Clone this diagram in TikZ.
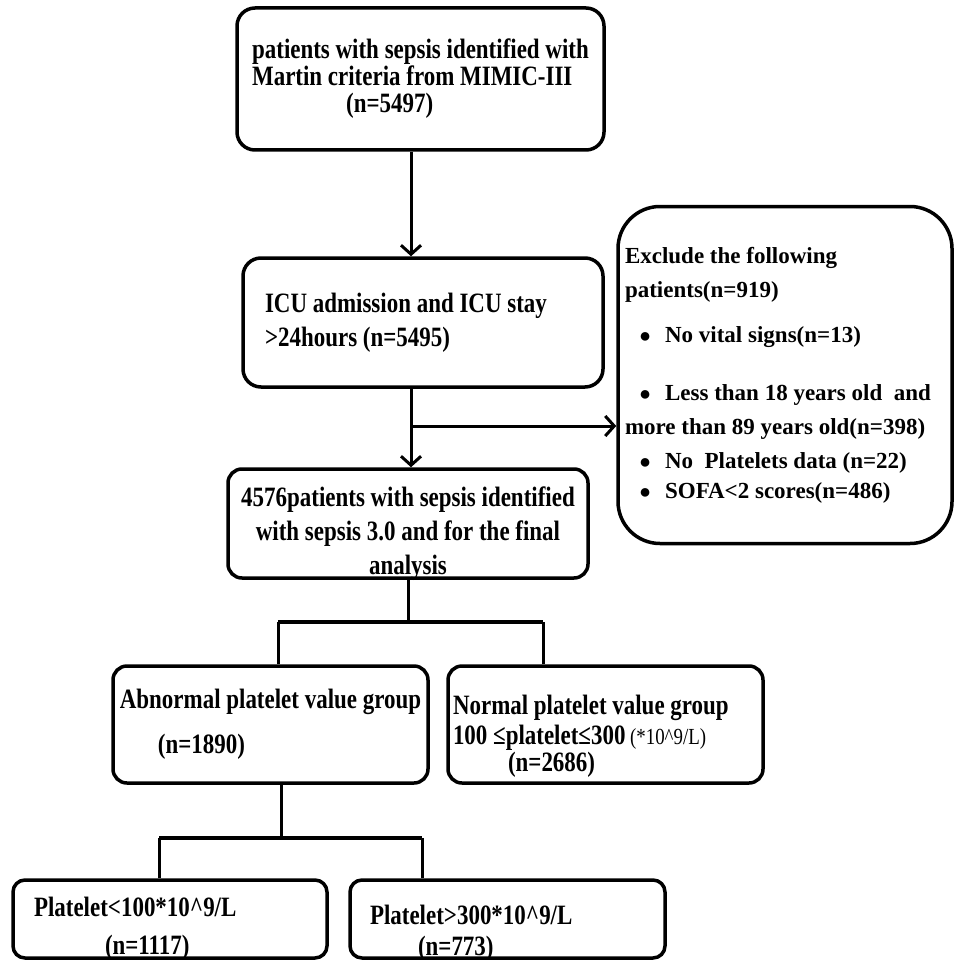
\documentclass[tikz,border=0pt]{standalone}
\usepackage{fontspec}
\setmainfont{Liberation Serif}
\newfontfamily\narrowfont{Liberation Serif}[FakeStretch=0.82]
\usetikzlibrary{arrows.meta, positioning}
\tikzset{>={Straight Barb[length=9pt,width=20pt]},
  box/.style={draw, line width=3.5pt, rounded corners=18pt, inner sep=0pt,
    font=\narrowfont\bfseries\fontsize{28}{34}\selectfont},
  link/.style={line width=3pt},
  bar/.style={line width=4pt}}
\newcommand{\dotitem}{\hspace*{14pt}{\fontsize{20}{20}\selectfont ●}\hspace{14pt}}

\begin{document}
\begin{tikzpicture}[x=1pt, y=-1pt]
  \useasboundingbox (0,0) rectangle (954,960);
  \node[box, minimum width=367pt, minimum height=142pt, align=flush left] (sepsis_martin) at (420.5,79)
    {patients with sepsis identified with\\[-7pt]Martin criteria from MIMIC-III\\[-7pt]\hspace*{94pt}(n=5497)};
  \node[box, minimum width=360pt, minimum height=129pt, text width=316pt, align=flush left] (icu_stay) at (423,322.5)
    {ICU admission and ICU stay\\>24hours (n=5495)};
  \node[box, rounded corners=42pt, font=\bfseries\fontsize{23}{34}\selectfont, minimum width=334pt,
    minimum height=337pt, text width=320pt, align=flush left] (exclude) at (785,375)
    {Exclude the following\\patients(n=919)\\[11pt]
     \mbox{\dotitem No vital signs(n=13)}\\[24pt]
     \mbox{\dotitem Less than 18 years old~ and}\\
     \mbox{more than 89 years old(n=398)}\\
     \mbox{\dotitem No~ Platelets data (n=22)}\\[-4pt]
     \mbox{\dotitem SOFA<2 scores(n=486)}};
  \node[box, rounded corners=14pt, minimum width=360pt, minimum height=109pt, text width=356pt, text height=0pt,
    text depth=35pt, align=flush center] (final_analysis) at (408,523.5)
    {4576patients with sepsis identified\\with sepsis 3.0 and for the final\\analysis};
  \node[box, rounded corners=14pt, minimum width=315pt, minimum height=117pt, align=flush left] (abnormal_plt) at (270.5,724.5)
    {Abnormal platelet value group\\[11pt]\hspace*{38pt}(n=1890)};
  \node[box, rounded corners=14pt, minimum width=315pt, minimum height=117pt, text width=305pt, text height=0pt,
    text depth=21pt, align=flush left] (normal_plt) at (605.5,724.5)
    {Normal platelet value group\\[-4pt]100 ≤platelet≤300\,{\mdseries\fontsize{23}{23}\selectfont(*10\textasciicircum 9/L)}\\[-7pt]\hspace*{55pt}(n=2686)};
  \node[box, rounded corners=12pt, minimum width=314pt, minimum height=78pt, text width=272pt, text height=0pt,
    text depth=6pt, align=flush left] (low_plt) at (170,919)
    {Platelet<100*10\textasciicircum 9/L\\[4pt]\hspace*{71pt}(n=1117)};
  \node[box, rounded corners=12pt, minimum width=315pt, minimum height=78pt, text width=275pt, text height=10pt,
    text depth=0pt, align=flush left] (high_plt) at (507.5,919)
    {Platelet>300*10\textasciicircum 9/L\\[-3pt]\hspace*{48pt}(n=773)};

  % exclusion branch
  \coordinate (split) at (411,426);
  \draw[link,->] (sepsis_martin.south -| split) -- (icu_stay.north -| split);
  \draw[link] (icu_stay.south -| split) -- (split);
  \draw[link,->] (split) -- (final_analysis.north -| split);
  \draw[link,->] (split) -- (exclude.west |- split);

  % platelet groups
  \coordinate (fork_a) at (278,622);
  \coordinate (fork_b) at (543,622);
  \draw[link] (final_analysis.south) -- (final_analysis.south |- fork_a);
  \draw[link] (abnormal_plt.north -| fork_a) -- (fork_a);
  \draw[link] (normal_plt.north -| fork_b) -- (fork_b);
  \draw[bar] (fork_a) -- (fork_b);

  \coordinate (stem) at (281,838);
  \coordinate (fork_c) at (159,838);
  \coordinate (fork_d) at (422,838);
  \draw[link] (abnormal_plt.south -| stem) -- (stem);
  \draw[link] (low_plt.north -| fork_c) -- (fork_c);
  \draw[link] (high_plt.north -| fork_d) -- (fork_d);
  \draw[bar] (fork_c) -- (fork_d);
\end{tikzpicture}
\end{document}
